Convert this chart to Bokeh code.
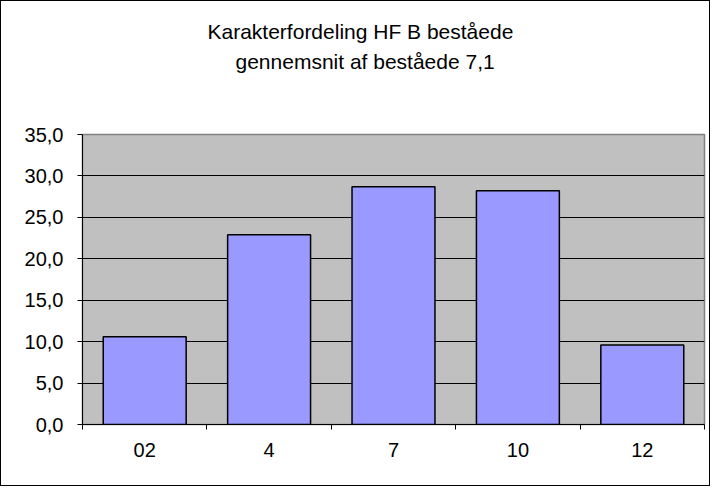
from bokeh.plotting import figure
from bokeh.models import FixedTicker, CustomJSTickFormatter, Title, Range1d
from bokeh.embed import file_html
from bokeh.resources import INLINE

categories = ["02", "4", "7", "10", "12"]
values = [10.6, 22.9, 28.7, 28.2, 9.6]
y_ticks = [0, 5, 10, 15, 20, 25, 30, 35]
title_line1 = "Karakterfordeling HF B beståede"
title_line2 = "gennemsnit af beståede 7,1"

FONT = "Liberation Sans"
n = len(categories)
xs = [i + 0.5 for i in range(n)]

p = figure(width=710, height=486, output_backend="svg", toolbar_location=None,
           title=None,
           x_range=Range1d(0, n), y_range=Range1d(y_ticks[0], y_ticks[-1]),
           min_border_left=81, min_border_right=7, min_border_top=133,
           min_border_bottom=63)
p.styles = {"border": "1px solid black", "box-sizing": "border-box"}
p.background_fill_color = "#C0C0C0"
p.border_fill_color = "white"
p.outline_line_color = "#808080"
p.outline_line_width = 1.5

p.vbar(x=xs, top=values, width=2 / 3, bottom=0, fill_color="#9999FF",
       line_color="black", line_width=1.5)

# x axis
p.xaxis.ticker = FixedTicker(ticks=xs, minor_ticks=list(range(n + 1)))
p.xaxis.major_label_overrides = {x: c for x, c in zip(xs, categories)}
p.xaxis.major_tick_line_color = None
p.xaxis.minor_tick_line_color = "black"
p.xaxis.minor_tick_in = 0
p.xaxis.minor_tick_out = 5
p.xaxis.axis_line_color = "black"
p.xaxis.major_label_standoff = 12
p.xgrid.visible = False

# y axis
p.yaxis.ticker = FixedTicker(ticks=y_ticks, minor_ticks=[])
p.yaxis.formatter = CustomJSTickFormatter(code="return tick.toFixed(1).replace('.', ',');")
p.yaxis.major_tick_in = 0
p.yaxis.major_tick_out = 5
p.yaxis.major_tick_line_color = "black"
p.yaxis.axis_line_color = "black"
p.yaxis.major_label_standoff = 14
p.ygrid.grid_line_color = "black"
p.ygrid.grid_line_width = 1

for ax in (p.xaxis, p.yaxis):
    ax.major_label_text_font = FONT
    ax.major_label_text_font_size = "20px"
    ax.major_label_text_color = "black"

# two-line title; a blank spacer title sits nearest the plot
spacer = Title(text=" ", text_font=FONT, text_font_size="21px", standoff=35)
t2 = Title(text=title_line2, align="left", offset=153, text_font=FONT,
           text_font_size="21px", text_font_style="normal", text_color="black",
           standoff=4)
t1 = Title(text=title_line1, align="left", offset=125, text_font=FONT,
           text_font_size="21px", text_font_style="normal", text_color="black",
           standoff=6)
p.add_layout(spacer, "above")
p.add_layout(t2, "above")
p.add_layout(t1, "above")

open("out.html", "w").write(file_html(p, INLINE))
